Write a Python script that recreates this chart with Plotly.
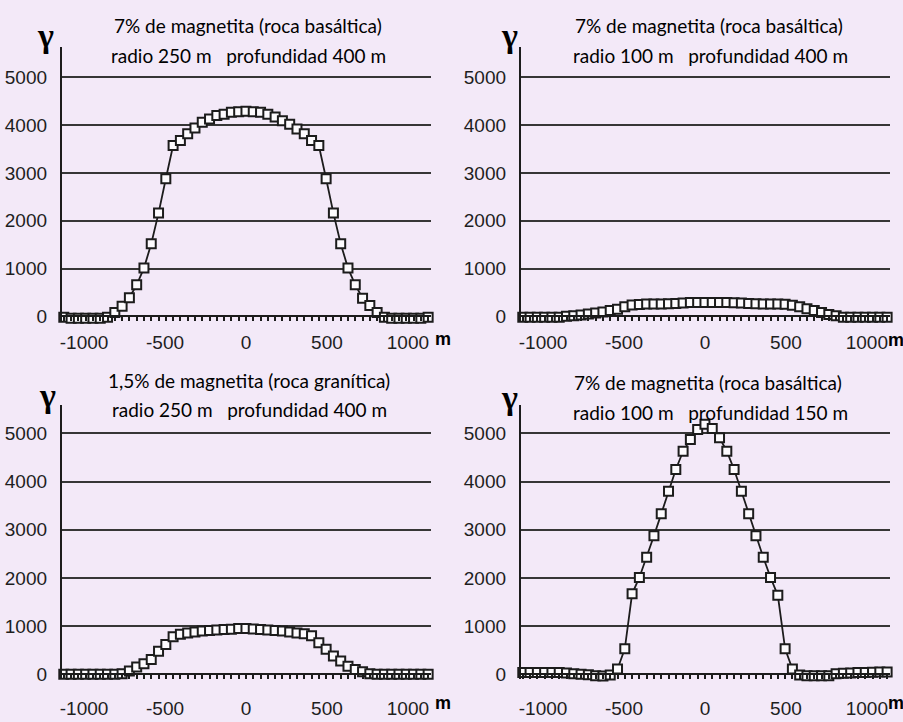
import plotly.graph_objects as go

# Perfil horizontal de medición (m): 51 estaciones cada 45 m
distancia_m = list(range(-1125, 1126, 45))

# Anomalía magnética (gammas) a lo largo del perfil
gamma_basalto_r250_p400 = [
    -20, -40, -40, -40, -40, -40, -20, 80, 210, 390, 660, 1010, 1520,
    2160, 2880, 3575, 3680, 3820, 3940, 4060, 4130, 4200, 4230, 4270, 4280,
    4290,
    4280, 4270, 4230, 4170, 4090, 4020, 3920, 3820, 3680, 3575, 2880, 2160,
    1520, 1010, 660, 380, 225, 80, -20, -40, -40, -40, -40, -40, -20,
]
gamma_basalto_r100_p400 = [
    -20, -20, -20, -20, -20, -20, 0, 10, 30, 50, 70, 90, 120, 150, 200,
    240, 250, 260, 260, 260, 265, 270, 280, 290, 290,
    290,
    290, 290, 290, 285, 280, 270, 265, 260, 260, 260, 255, 230, 200, 160,
    120, 80, 40, 10, -20, -20, -20, -20, -20, -20, -20,
]
gamma_granito_r250_p400 = [
    0, 0, 0, 0, 0, 0, 0, 0, 15, 70, 150, 220, 310, 480, 620, 780, 830,
    860, 880, 900, 910, 920, 930, 935, 950,
    950,
    940, 930, 920, 910, 900, 880, 860, 840, 800, 655, 520, 380, 275, 170,
    100, 55, 15, 0, 0, 0, 0, 0, 0, 0, 0,
]
gamma_basalto_r100_p150 = [
    40, 40, 40, 40, 40, 40, 30, 10, 0, -10, -30, -35, -15, 110, 530, 1670,
    2010, 2430, 2875, 3330, 3800, 4250, 4630, 4875, 5080,
    5190,
    5100, 4910, 4630, 4250, 3800, 3330, 2875, 2430, 2010, 1640, 530, 110,
    -15, -30, -30, -30, -30, 10, 25, 30, 40, 40, 45, 50, 50,
]

series = [
    gamma_basalto_r250_p400,
    gamma_basalto_r100_p400,
    gamma_granito_r250_p400,
    gamma_basalto_r100_p150,
]

titulos_l1 = [
    "7% de magnetita (roca basáltica)",
    "7% de magnetita (roca basáltica)",
    "1,5% de magnetita (roca granítica)",
    "7% de magnetita (roca basáltica)",
]
titulos_l2 = [
    "radio 250 m\u00a0\u00a0\u00a0profundidad 400 m",
    "radio 100 m\u00a0\u00a0\u00a0profundidad 400 m",
    "radio 250 m\u00a0\u00a0\u00a0profundidad 400 m",
    "radio 100 m\u00a0\u00a0\u00a0profundidad 150 m",
]

y_ticks = [0, 1000, 2000, 3000, 4000, 5000]
x_ticks = [-1000, -500, 0, 500, 1000]
x_tick_text = ["-1000", "-500", "0", "500", "1000"]

W, H = 903, 722
FONDO = "#f3e9f8"
TINTA = "#1c1c1c"
REJILLA = "#363636"
Y_MIN = -100

# Geometría de cada panel en píxeles: izquierda, derecha, arriba, línea del cero,
# posición de la línea de 5000
paneles = [
    dict(l=60, r=430, top=47, zero=319, y5000=78),
    dict(l=520, r=890, top=47, zero=319, y5000=78),
    dict(l=60, r=430, top=408, zero=680, y5000=437),
    dict(l=520, r=890, top=408, zero=680, y5000=437),
]
titulo_pos = [
    ((247, 26), (247, 56)),
    ((709, 26), (710, 56)),
    ((248, 384), (248, 413)),
    ((708, 386), (710, 416)),
]
gamma_pos = [(44, 36), (509, 36), (46, 399), (509, 401)]
m_pos = [(442, 342), (896, 343), (442, 709), (896, 709)]
label_standoff = [9, 9, 17, 17]


def px(x):
    return x / W


def py(y):
    return 1 - y / H


fig = go.Figure()
layout = {}
annotations = []

for i, (vals, p) in enumerate(zip(series, paneles)):
    n = "" if i == 0 else str(i + 1)
    esc = (p["zero"] - p["y5000"]) / 5000.0  # píxeles por gamma
    y_max = (p["zero"] - p["top"]) / esc
    fondo_px = p["zero"] - Y_MIN * esc
    fig.add_trace(go.Scatter(
        x=distancia_m, y=vals, mode="lines+markers",
        xaxis="x" + n, yaxis="y" + n,
        line=dict(color=TINTA, width=1.8),
        marker=dict(symbol="square", size=9, color="#fdfbfe",
                    line=dict(color=TINTA, width=2)),
        cliponaxis=False, showlegend=False, hoverinfo="x+y",
    ))
    layout["xaxis" + n] = dict(
        domain=[px(p["l"]), px(p["r"])], anchor="free",
        position=py(p["zero"]),
        range=[-1137, 1143], showgrid=False, zeroline=False,
        showline=True, linecolor=TINTA, linewidth=1.5,
        tickvals=x_ticks, ticktext=x_tick_text, ticks="",
        ticklabelstandoff=label_standoff[i],
        tickfont=dict(family="Liberation Sans", size=19, color="#1e1e1e"),
        minor=dict(tickvals=distancia_m, ticks="outside", ticklen=4,
                   tickwidth=1.5, tickcolor=TINTA),
        fixedrange=True,
    )
    layout["yaxis" + n] = dict(
        domain=[py(fondo_px), py(p["top"])], anchor="x" + n,
        range=[Y_MIN, y_max], showgrid=True, gridcolor=REJILLA,
        gridwidth=1.6, zeroline=False, showline=True, linecolor=TINTA,
        linewidth=2, tickvals=y_ticks, ticks="", ticklabelstandoff=9,
        tickfont=dict(family="Liberation Sans", size=19, color="#1e1e1e"),
        fixedrange=True,
    )
    (x1, y1), (x2, y2) = titulo_pos[i]
    for (tx, ty, txt) in ((x1, y1, titulos_l1[i]), (x2, y2, titulos_l2[i])):
        annotations.append(dict(
            x=px(tx), y=py(ty), xref="paper", yref="paper", text=txt,
            showarrow=False, xanchor="center", yanchor="middle",
            font=dict(family="Lato", size=19, color="#000000"),
        ))
    gx, gy = gamma_pos[i]
    annotations.append(dict(
        x=px(gx), y=py(gy), xref="paper", yref="paper", text="<b>γ</b>",
        showarrow=False, xanchor="center", yanchor="middle",
        font=dict(family="Liberation Serif", size=34, color="#000000"),
    ))
    mx, my = m_pos[i]
    annotations.append(dict(
        x=px(mx), y=py(my), xref="paper", yref="paper", text="<b>m</b>",
        showarrow=False, xanchor="center", yanchor="middle",
        font=dict(family="Liberation Sans", size=18, color="#000000"),
    ))

fig.update_layout(
    width=W, height=H, margin=dict(l=0, r=0, t=0, b=0),
    paper_bgcolor=FONDO, plot_bgcolor=FONDO,
    annotations=annotations, **layout,
)

fig.write_html("out.html")
